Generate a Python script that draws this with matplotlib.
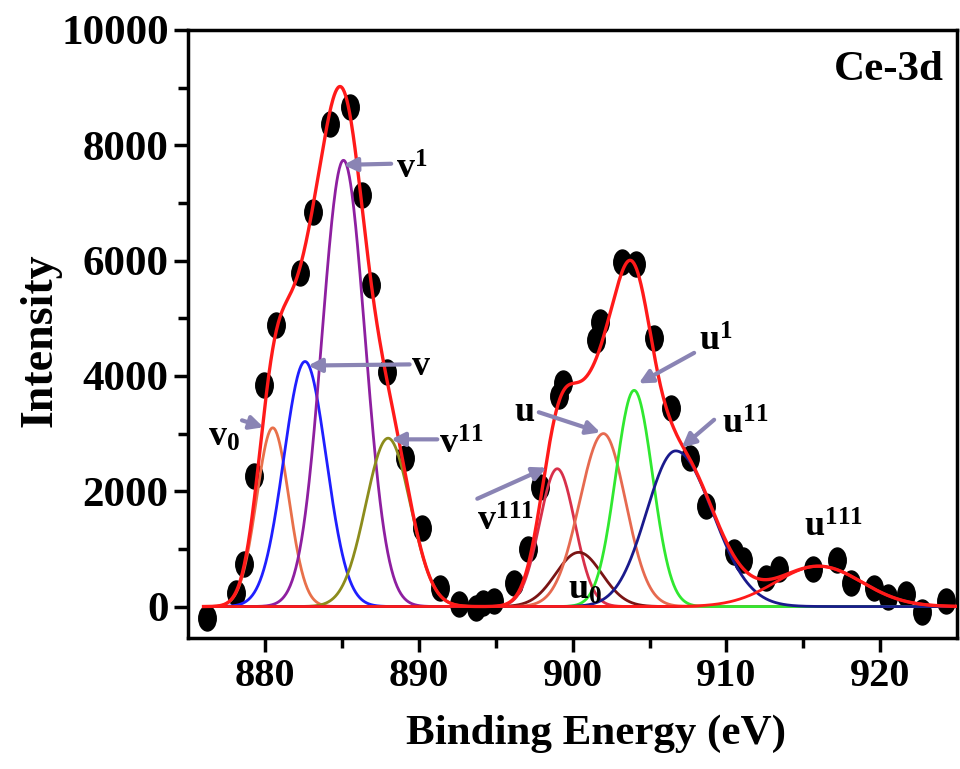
import numpy as np
import matplotlib
matplotlib.use("Agg")
import matplotlib.pyplot as plt
from matplotlib.path import Path
from matplotlib.transforms import Affine2D

plt.rcParams["font.family"] = "Liberation Serif"
plt.rcParams["font.weight"] = "bold"
plt.rcParams["mathtext.fontset"] = "custom"
plt.rcParams["mathtext.rm"] = "Liberation Serif:bold"
plt.rcParams["mathtext.it"] = "Liberation Serif:bold"
plt.rcParams["mathtext.bf"] = "Liberation Serif:bold"

# measured points (binding energy, intensity)
data_energy = [876.2, 878.1, 878.6, 879.3, 879.9, 880.7, 882.3, 883.1, 884.2, 885.5,
               886.3, 886.9, 887.9, 889.1, 890.2, 891.4, 892.6, 893.7, 894.2, 894.9,
               896.2, 897.1, 897.9, 899.1, 899.4, 901.5, 901.8, 903.2, 904.1, 905.3,
               906.4, 907.6, 908.7, 910.5, 911.1, 912.6, 913.4, 915.6, 917.2, 918.1,
               919.6, 920.5, 921.7, 922.7, 924.3]
data_intensity = [-190, 240, 745, 2270, 3840, 4880, 5780, 6840, 8370, 8660,
                  7140, 5570, 4060, 2570, 1370, 330, 50, -20, 70, 100,
                  400, 1000, 2070, 3660, 3870, 4620, 4930, 5970, 5950, 4650,
                  3450, 2570, 1750, 940, 800, 500, 660, 660, 800, 400,
                  330, 160, 225, -100, 100]

# fitted Gaussian components (left / right widths)
peak_names = ["v0", "v", "v1", "v11", "v111", "u0", "u", "u1", "u11", "u111"]
peak_centers = [880.5, 882.6, 885.1, 888.0, 899.0, 900.4, 902.0, 904.0, 906.7, 916.0]
peak_heights = [3100, 4250, 7740, 2920, 2390, 940, 3000, 3750, 2700, 700]
sigma_left = [1.05, 1.38, 1.4, 1.45, 1.15, 1.5, 1.55, 1.2, 1.9, 2.8]
sigma_right = [1.05, 1.38, 1.4, 1.45, 1.15, 1.5, 1.45, 1.2, 2.4, 2.8]
peak_colors = ["#e8704a", "#1f1fff", "#8e1fa0", "#8c8c1c", "#d8304a",
               "#7a1414", "#e66a50", "#30e830", "#1a1a8c", "#ff1a1a"]

# labels: text, left position, arrow tail and head (None = no arrow)
label_texts = [r"$\mathrm{v}_{0}$", r"$\mathrm{v}$", r"$\mathrm{v}^{1}$", r"$\mathrm{v}^{11}$",
               r"$\mathrm{v}^{111}$", r"$\mathrm{u}_{0}$", r"$\mathrm{u}$", r"$\mathrm{u}^{1}$",
               r"$\mathrm{u}^{11}$", r"$\mathrm{u}^{111}$"]
label_pos = [(876.3, 2930), (889.5, 4170), (888.5, 7570), (891.3, 2800), (893.75, 1460),
             (899.7, 280), (896.2, 3370), (908.2, 4580), (909.7, 3140), (915.05, 1350)]
arrow_tail = [(878.5, 3230), (889.4, 4200), (888.2, 7680), (891.2, 2900), (893.8, 1870),
              None, (897.8, 3370), (907.9, 4400), (909.2, 3240), None]
arrow_head = [(879.9, 3110), (882.8, 4180), (885.1, 7660), (888.2, 2900), (898.3, 2410),
              None, (901.8, 3020), (904.3, 3870), (907.1, 2760), None]

fig = plt.figure(figsize=(9.6, 7.69), dpi=100)
ax = fig.add_axes([0.196, 0.170, 0.801, 0.791])

# data dots (vertically stretched ellipse)
dot = Path.unit_circle().transformed(Affine2D().scale(0.7, 1.0))
ax.plot(data_energy, data_intensity, linestyle="none", marker=dot, markersize=18,
        color="black", zorder=1)

x = np.linspace(876.0, 925.0, 1200)
envelope = np.zeros_like(x)
for c, h, sl, sr, col in zip(peak_centers, peak_heights, sigma_left, sigma_right, peak_colors):
    s = np.where(x < c, sl, sr)
    y = h * np.exp(-0.5 * ((x - c) / s) ** 2)
    envelope += y
    ax.plot(x, y, color=col, lw=2, zorder=2)
ax.plot(x, envelope, color="#ff1a1a", lw=2.4, zorder=3)

arrow_color = "#8a84b4"
for txt, pos, tail, head in zip(label_texts, label_pos, arrow_tail, arrow_head):
    ax.text(pos[0], pos[1], txt, fontsize=26, ha="left", va="center", zorder=5)
    if tail is not None:
        ax.annotate("", xy=head, xytext=tail,
                    arrowprops=dict(arrowstyle="-|>", color=arrow_color, lw=3,
                                    mutation_scale=20, shrinkA=0, shrinkB=0), zorder=4)

ax.text(924.1, 9300, "Ce-3d", fontsize=31, ha="right", va="center")

ax.set_xlim(875, 925)
ax.set_ylim(-550, 10000)
ax.set_xticks([880, 890, 900, 910, 920])
ax.set_xticks([885, 895, 905, 915], minor=True)
ax.set_yticks([0, 2000, 4000, 6000, 8000, 10000])
ax.set_yticks([1000, 3000, 5000, 7000, 9000], minor=True)
ax.tick_params(which="major", direction="out", length=10, width=2.5, pad=4)
ax.tick_params(which="minor", direction="out", length=7, width=2.5)
ax.tick_params(axis="x", labelsize=29)
ax.tick_params(axis="y", labelsize=31)
for side in ["left", "bottom", "right", "top"]:
    ax.spines[side].set_linewidth(2.5)

ax.set_xlabel("Binding Energy (eV)", fontsize=31, fontweight="bold")
ax.xaxis.set_label_coords(0.531, -0.125)
ax.set_ylabel("Intensity", fontsize=33, fontweight="bold")
ax.yaxis.set_label_coords(-0.165, 0.49)

fig.savefig("out.png", dpi=100)
